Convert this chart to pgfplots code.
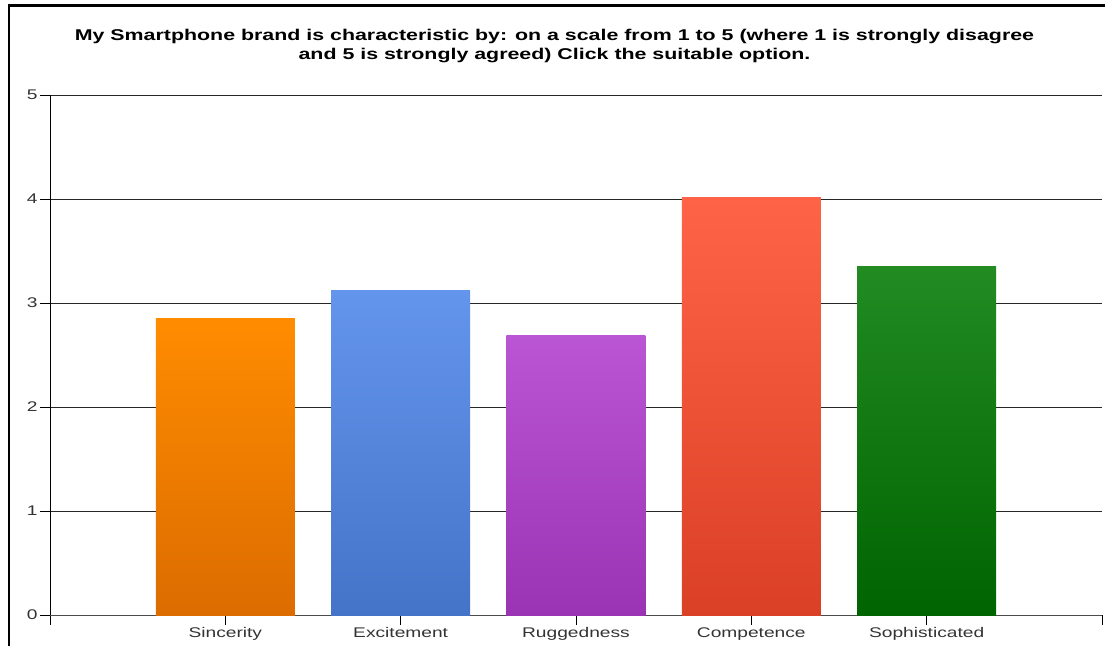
\documentclass[border=0pt]{standalone}
\usepackage{fontspec}
\setmainfont[FakeStretch=1.37]{Liberation Sans}
\usepackage{pgfplots}
\pgfplotsset{compat=1.18}
\definecolor{oTop}{HTML}{FF8C00}
\definecolor{oBot}{HTML}{DC6C00}
\definecolor{bTop}{HTML}{6495ED}
\definecolor{bBot}{HTML}{4474C8}
\definecolor{pTop}{HTML}{BA55D3}
\definecolor{pBot}{HTML}{9A34B4}
\definecolor{rTop}{HTML}{FF6347}
\definecolor{rBot}{HTML}{DA4026}
\definecolor{gTop}{HTML}{228B22}
\definecolor{gBot}{HTML}{006400}
\begin{document}
\begin{tikzpicture}[x=1pt,y=1pt]
\useasboundingbox (0,0) rectangle (1105,645);
\draw[line width=2.5pt] (9,-20) -- (9,639.5) -- (1130,639.5);
\node[font=\bfseries\fontsize{15.6}{19}\selectfont, align=center, anchor=base] at (554.5,585)
  {My Smartphone brand is characteristic by: on a scale from 1 to 5 (where 1 is strongly disagree\\
   and 5 is strongly agreed) Click the suitable option.};
\begin{axis}[
  at={(50pt,30pt)}, anchor=south west,
  scale only axis, width=1052pt, height=520pt,
  xmin=0, xmax=6, ymin=0, ymax=5,
  axis x line*=bottom, axis y line*=left,
  x axis line style={color=black!70, line width=0.9pt},
  y axis line style={color=black, line width=0.8pt},
  xtick={0,1,2,3,4,5,6},
  xticklabels={,Sincerity,Excitement,Ruggedness,Competence,Sophisticated,},
  ytick={0,1,2,3,4,5},
  tick align=outside,
  major tick length=10pt,
  tick style={black, line width=0.8pt},
  ymajorgrids,
  grid style={black!85, line width=0.8pt},
  /pgf/number format/assume math mode=true,
  tick label style={font=\fontsize{14}{16}\selectfont, text=black!80},
  xticklabel style={yshift=1pt},
  yticklabel style={xshift=1pt},
  every axis plot/.append style={ybar, bar width=139pt, bar shift=0pt, draw=none},
]
\addplot[top color=oTop, bottom color=oBot] coordinates {(1,2.85)};
\addplot[top color=bTop, bottom color=bBot] coordinates {(2,3.12)};
\addplot[top color=pTop, bottom color=pBot] coordinates {(3,2.69)};
\addplot[top color=rTop, bottom color=rBot] coordinates {(4,4.01)};
\addplot[top color=gTop, bottom color=gBot] coordinates {(5,3.35)};
\end{axis}
\end{tikzpicture}
\end{document}
